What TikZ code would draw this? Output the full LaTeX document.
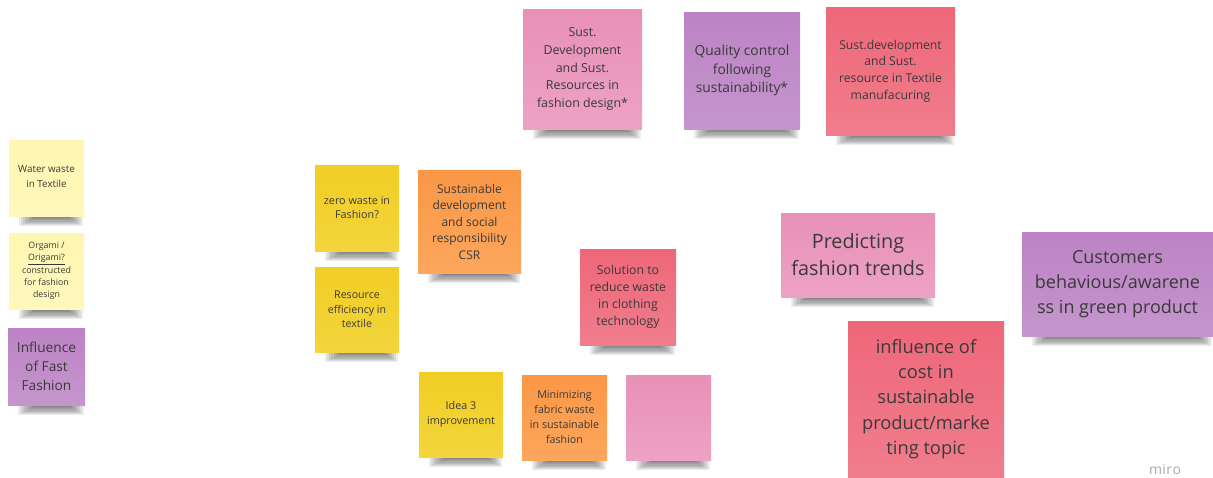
\documentclass[tikz,border=0pt]{standalone}
\usepackage{fontspec}
\setmainfont{Open Sans}
\pgfdeclarelayer{bg}
\pgfsetlayers{bg,main}
\definecolor{lyel}{HTML}{FFF6B0}
\definecolor{lyelb}{HTML}{FFF8BC}
\definecolor{yel}{HTML}{F1CE24}
\definecolor{yelb}{HTML}{F3D53C}
\definecolor{ora}{HTML}{FB9746}
\definecolor{orab}{HTML}{FCA75C}
\definecolor{red}{HTML}{EE6779}
\definecolor{redb}{HTML}{F07D8C}
\definecolor{pnk}{HTML}{E890B8}
\definecolor{pnkb}{HTML}{EDA2C5}
\definecolor{pur}{HTML}{BC83C4}
\definecolor{purb}{HTML}{C595CD}
\definecolor{txt}{HTML}{3A3A3A}
\tikzset{
  note/.style={inner sep=0pt, align=center, text=txt, shading=axis, shading angle=0},
  nlyel/.style={note, top color=lyel, bottom color=lyelb},
  nyel/.style={note, top color=yel, bottom color=yelb},
  nora/.style={note, top color=ora, bottom color=orab},
  nred/.style={note, top color=red, bottom color=redb},
  npnk/.style={note, top color=pnk, bottom color=pnkb},
  npur/.style={note, top color=pur, bottom color=purb},
  shad/.style={fill=black, fill opacity=0.075},
}
\newcommand{\fs}[2]{\fontsize{#1}{#2}\selectfont}
\begin{document}
\begin{tikzpicture}[x=1pt,y=-1pt]
\useasboundingbox (0,0) rectangle (1213,477);
% left column
\node[nlyel, minimum width=75pt, minimum height=76pt, font=\fs{9.8}{15}] (n1) at (46.5,178) {Water waste\\in Textile\vphantom{g}};
\node[nlyel, minimum width=75pt, minimum height=76pt, font=\fs{8.8}{12.2}] (n2) at (46.5,271) {Orgami /\\\underline{Origami?}\\constructed\\for fashion\\design};
\node[npur, minimum width=77pt, minimum height=77pt, font=\fs{13.7}{19}] (n3) at (46.5,366.5) {Influence\\of Fast\\Fashion};
% middle
\node[nyel, minimum width=84pt, minimum height=86pt, font=\fs{10.8}{14}] (n4) at (357,208) {zero waste in\\Fashion?};
\node[nyel, minimum width=84pt, minimum height=85pt, font=\fs{10.6}{14.5}] (n5) at (357,309.5) {Resource\\efficiency in\\textile};
\node[nora, minimum width=103pt, minimum height=103pt, font=\fs{12}{16.5}] (n6) at (469.5,221.5) {Sustainable\\development\\and social\\responsibility\\CSR};
\node[nyel, minimum width=84pt, minimum height=85pt, font=\fs{10.8}{15}] (n7) at (461,414.5) {Idea 3\\improvement};
\node[nora, minimum width=85pt, minimum height=85pt, font=\fs{10.7}{15}] (n8) at (564.5,417.5) {Minimizing\\fabric waste\\in sustainable\\fashion};
\node[npnk, minimum width=85pt, minimum height=85pt] (n9) at (668.5,417.5) {};
\node[nred, minimum width=96pt, minimum height=96pt, font=\fs{12.3}{17}] (n10) at (628,297) {Solution to\\reduce waste\\in clothing\\technology};
% top
\node[npnk, minimum width=119pt, minimum height=120pt, font=\fs{12.4}{17.8}] (n11) at (582.5,69) {Sust.\\Development\\and Sust.\\Resources in\\fashion design*};
\node[npur, minimum width=116pt, minimum height=117pt, font=\fs{13.8}{18.5}] (n12) at (742,70.5) {Quality control\\following\\sustainability*};
\node[nred, minimum width=129pt, minimum height=128pt, font=\fs{12.2}{16.7}] (n13) at (890.5,71) {Sust.development\\and Sust.\\resource in Textile\\manufacuring};
% right
\node[npnk, minimum width=154pt, minimum height=84pt, font=\fs{19.8}{27}] (n14) at (858,255) {Predicting\\fashion trends};
\node[npur, minimum width=191pt, minimum height=104pt, font=\fs{18}{25}] (n15) at (1117.5,284) {Customers\\behavious/awarene\\ss in green product};
\node[nred, minimum width=156pt, minimum height=156pt, font=\fs{18.3}{25.3}] (n16) at (926,399) {influence of\\cost in\\sustainable\\product/marke\\ting topic};
\node[text=black!33, inner sep=0pt, font=\fs{14}{14}] (logo) at (1165,469) {m\kern0.4pt i\kern0.4pt r\kern0.4pt o};
\begin{pgfonlayer}{bg}
\fill[white] (0,0) rectangle (1213,477);
\foreach \n in {n1,n2,n3,n4,n5,n6,n7,n8,n9,n10,n11,n12,n13,n14,n15,n16}{
  \foreach \k in {0,...,7}{
    \fill[shad] ([xshift={10pt+2.2pt*\k},yshift=2pt]\n.south west) rectangle ([xshift={-1pt-2pt*\k},yshift={-10pt+1.15pt*\k}]\n.south east);
  }
}
\end{pgfonlayer}
\end{tikzpicture}
\end{document}
